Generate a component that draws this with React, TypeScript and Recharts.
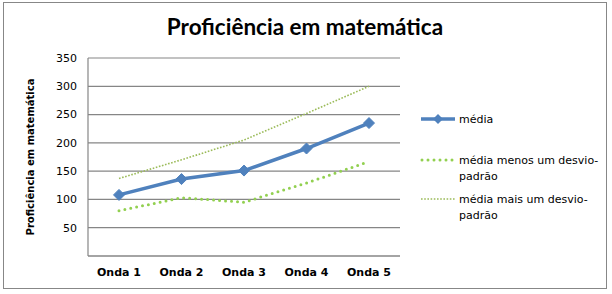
import { LineChart, Line, XAxis, YAxis, CartesianGrid, Label } from 'recharts';

const waves = ['Onda 1', 'Onda 2', 'Onda 3', 'Onda 4', 'Onda 5'];
const mean = [108, 136, 151, 190, 235];
const meanMinusSd = [80, 103, 95, 129, 167];
const meanPlusSd = [137, 170, 205, 252, 300];
const yTicks = [50, 100, 150, 200, 250, 300, 350];

const data = waves.map((name, i) => ({
  name,
  media: mean[i],
  menos: meanMinusSd[i],
  mais: meanPlusSd[i],
}));

const BLUE = '#4F81BD';
const GREEN = '#92D050';
const LIGHT_GREEN = '#9BBB59';
const TICK_FONT = '"DejaVu Sans", Verdana, sans-serif';

const Diamond = (props: any) => {
  const { cx, cy } = props;
  if (cx == null || cy == null) return null;
  const r = 5.5;
  return (
    <path
      d={`M${cx},${cy - r} L${cx + r},${cy} L${cx},${cy + r} L${cx - r},${cy} Z`}
      fill={BLUE}
      stroke={BLUE}
    />
  );
};

function LegendRow({ top, kind, lines }: { top: number; kind: 'solid' | 'dots' | 'fine'; lines: string[] }) {
  return (
    <div style={{ position: 'absolute', left: 0, top, width: 190 }}>
      <svg width={36} height={14} style={{ position: 'absolute', left: 0, top: 0 }}>
        {kind === 'solid' && (
          <>
            <line x1={1} y1={7} x2={35} y2={7} stroke={BLUE} strokeWidth={3.5} />
            <path d="M18,2 L23,7 L18,12 L13,7 Z" fill={BLUE} />
          </>
        )}
        {kind === 'dots' && (
          <line x1={2} y1={7} x2={35} y2={7} stroke={GREEN} strokeWidth={3} strokeDasharray="0 6" strokeLinecap="round" />
        )}
        {kind === 'fine' && (
          <line x1={1} y1={7} x2={35} y2={7} stroke={LIGHT_GREEN} strokeWidth={1.6} strokeDasharray="1.6 1.6" />
        )}
      </svg>
      <div style={{ position: 'absolute', left: 39, top: 0, fontFamily: TICK_FONT, fontSize: 11, lineHeight: '16px', color: '#000' }}>
        {lines.map((t) => (
          <div key={t}>{t}</div>
        ))}
      </div>
    </div>
  );
}

export default function App() {
  return (
    <div style={{ position: 'absolute', left: 0, top: 0, width: 612, height: 294, background: '#fff', overflow: 'hidden' }}>
      <div
        style={{
          position: 'absolute',
          left: 3,
          top: 2,
          width: 604,
          height: 287,
          border: '1.5px solid #878787',
          boxSizing: 'border-box',
        }}
      />
      <div
        style={{
          position: 'absolute',
          left: 0,
          top: 13,
          width: 610,
          textAlign: 'center',
          fontFamily: 'Lato, "Open Sans", sans-serif',
          fontWeight: 700,
          fontSize: 22.5,
          lineHeight: '28px',
          color: '#000',
        }}
      >
        Proficiência em matemática
      </div>
      <div style={{ position: 'absolute', left: 0, top: 0 }}>
        <LineChart width={612} height={294} data={data} margin={{ top: 58, right: 212, left: 0, bottom: 0 }}>
          <CartesianGrid vertical={false} stroke="#868686" strokeWidth={1.2} />
          <XAxis
            dataKey="name"
            height={38}
            padding={{ left: 31, right: 31 }}
            axisLine={{ stroke: '#868686', strokeWidth: 1.2 }}
            tickLine={false}
            tickSize={0}
            tickMargin={12}
            tick={{ fontFamily: TICK_FONT, fontSize: 11, fontWeight: 700, fill: '#000' }}
            interval={0}
          />
          <YAxis
            width={88}
            domain={[0, 350]}
            ticks={yTicks}
            axisLine={{ stroke: '#868686', strokeWidth: 1.2 }}
            tickLine={false}
            tickSize={0}
            tickMargin={11}
            tick={{ fontFamily: TICK_FONT, fontSize: 11, fill: '#000' }}
          >
            <Label
              content={({ viewBox }: any) => {
                const cx = 30;
                const cy = viewBox.y + viewBox.height / 2;
                return (
                  <text
                    x={cx}
                    y={cy}
                    transform={`rotate(-90 ${cx} ${cy})`}
                    textAnchor="middle"
                    dominantBaseline="central"
                    fontFamily={TICK_FONT}
                    fontSize={10}
                    fontWeight={700}
                    fill="#000"
                  >
                    Proficiência  em matemática
                  </text>
                );
              }}
            />
          </YAxis>
          <Line
            type="linear"
            dataKey="mais"
            stroke={LIGHT_GREEN}
            strokeWidth={1.6}
            strokeDasharray="1.6 1.6"
            dot={false}
            isAnimationActive={false}
          />
          <Line
            type="linear"
            dataKey="menos"
            stroke={GREEN}
            strokeWidth={3}
            strokeDasharray="0 6"
            strokeLinecap="round"
            dot={false}
            isAnimationActive={false}
          />
          <Line
            type="linear"
            dataKey="media"
            stroke={BLUE}
            strokeWidth={3.5}
            dot={<Diamond />}
            activeDot={false}
            isAnimationActive={false}
          />
        </LineChart>
      </div>
      <div style={{ position: 'absolute', left: 420, top: 112, width: 190, height: 130 }}>
        <LegendRow top={0} kind="solid" lines={['média']} />
        <LegendRow top={41} kind="dots" lines={['média menos um desvio-', 'padrão']} />
        <LegendRow top={80} kind="fine" lines={['média mais um desvio-', 'padrão']} />
      </div>
    </div>
  );
}
